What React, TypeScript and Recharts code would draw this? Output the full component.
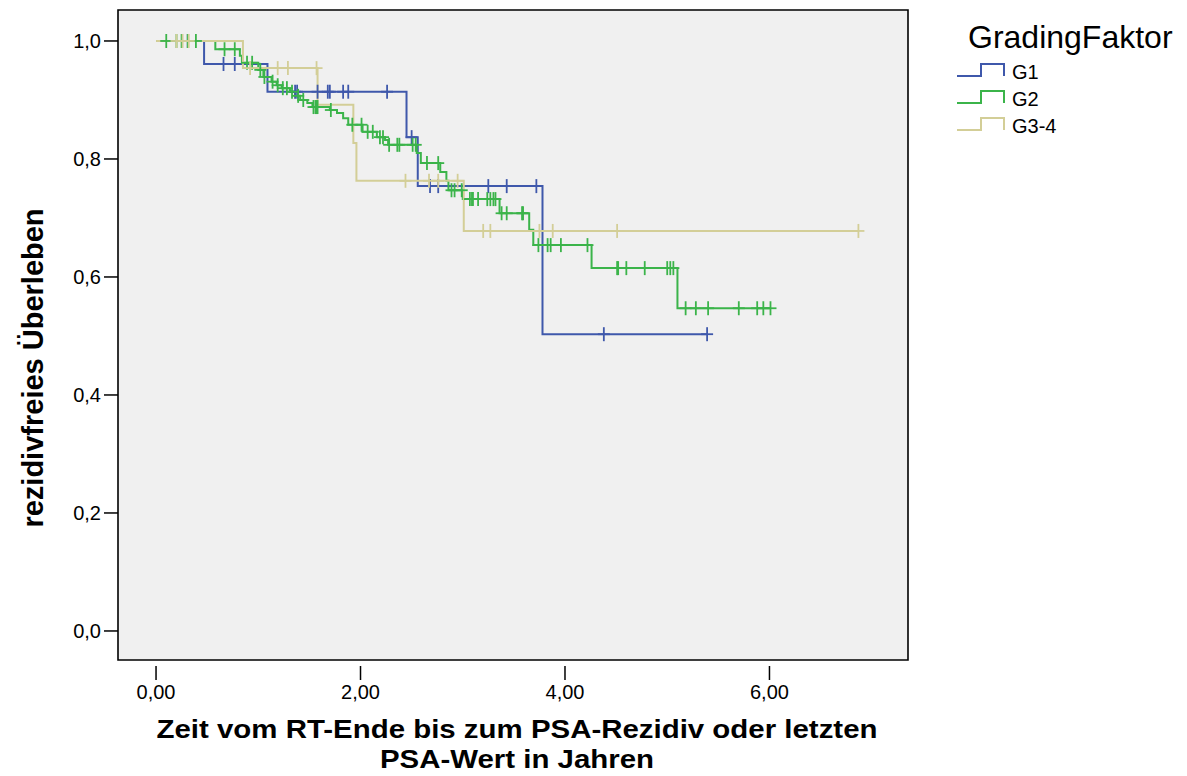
import { ComposedChart, Line, Scatter, XAxis, YAxis, ReferenceArea } from 'recharts';

// Kaplan-Meier readings (time in years, survival after the event)
const g1EventTimes = [0.47, 1.09, 2.45, 2.56, 3.78];
const g1Survival = [0.961, 0.914, 0.837, 0.754, 0.503];
const g1CensorTimes = [0.31, 0.66, 0.77, 1.36, 1.38, 1.58, 1.68, 1.7, 1.83, 1.88, 2.26, 2.5, 2.68, 2.76, 3.25, 3.43, 3.72, 4.38, 5.39];

const g2EventTimes = [
    0.58, 0.82, 0.84, 1.0, 1.05, 1.13, 1.18, 1.23, 1.31, 1.36, 1.41, 1.48, 1.53, 1.7, 1.77, 1.83, 1.88,
    2.02, 2.16, 2.24, 2.27, 2.55, 2.59, 2.78, 2.84, 2.86, 3.0, 3.36, 3.65, 3.69, 4.26, 5.1,
];
const g2Survival = [
    0.986, 0.975, 0.963, 0.951, 0.939, 0.931, 0.925, 0.92, 0.914, 0.907, 0.9, 0.895, 0.888, 0.883, 0.878, 0.869, 0.858,
    0.846, 0.837, 0.832, 0.824, 0.81, 0.793, 0.778, 0.763, 0.747, 0.732, 0.708, 0.68, 0.654, 0.615, 0.547,
];
const g2CensorTimes = [
    0.1, 0.2, 0.25, 0.31, 0.39, 0.67, 0.77, 0.89, 0.94, 1.02, 1.06, 1.14, 1.19, 1.24, 1.28, 1.33, 1.39, 1.44,
    1.54, 1.56, 1.57, 1.58, 1.71, 1.92, 2.01, 2.07, 2.12, 2.19, 2.22, 2.28, 2.36, 2.38, 2.51, 2.54, 2.65, 2.76,
    2.89, 2.92, 2.99, 3.07, 3.09, 3.1, 3.15, 3.24, 3.27, 3.3, 3.32, 3.38, 3.43, 3.58, 3.59, 3.74, 3.83, 3.86,
    3.96, 4.22, 4.51, 4.52, 4.6, 4.78, 5.0, 5.03, 5.06, 5.18, 5.28, 5.4, 5.7, 5.88, 5.94, 6.01,
];

const g3EventTimes = [0.85, 1.58, 1.93, 1.96, 3.01];
const g3Survival = [0.954, 0.892, 0.827, 0.763, 0.678];
const g3CensorTimes = [0.2, 0.26, 0.32, 0.92, 1.19, 1.29, 1.57, 2.44, 2.67, 2.76, 2.95, 3.2, 3.27, 3.75, 3.88, 4.51, 6.87];

const groupNames = ['G1', 'G2', 'G3-4'];
const groupColors = ['#3f58ab', '#3bb44a', '#d3ce97'];

const xTicks = [0, 2, 4, 6];
const yTicks = [0, 0.2, 0.4, 0.6, 0.8, 1.0];

const X_MIN = -0.372;
const X_MAX = 7.355;
const Y_MIN = -0.0492;
const Y_MAX = 1.0525;

const FONT = 'Liberation Sans, Arial, sans-serif';

const survivalAt = (t: number, times: number[], surv: number[]) => {
    let s = 1;
    times.forEach((et, i) => {
        if (et <= t) s = surv[i];
    });
    return s;
};

const buildCurve = (times: number[], surv: number[], censors: number[]) => {
    const end = Math.max(times[times.length - 1], censors[censors.length - 1]);
    const pts = [{ t: 0, s: 1 }];
    times.forEach((t, i) => pts.push({ t, s: surv[i] }));
    pts.push({ t: end, s: surv[surv.length - 1] });
    return pts;
};

const buildCensors = (times: number[], surv: number[], censors: number[]) =>
    censors.map((t) => ({ t, s: survivalAt(t, times, surv) }));

const groups = [
    { times: g1EventTimes, surv: g1Survival, censors: g1CensorTimes },
    { times: g2EventTimes, surv: g2Survival, censors: g2CensorTimes },
    { times: g3EventTimes, surv: g3Survival, censors: g3CensorTimes },
].map((g, i) => ({
    name: groupNames[i],
    color: groupColors[i],
    curve: buildCurve(g.times, g.surv, g.censors),
    marks: buildCensors(g.times, g.surv, g.censors),
}));

const fmtX = (v: number) => v.toFixed(2).replace('.', ',');
const fmtY = (v: number) => v.toFixed(1).replace('.', ',');

const plusShape = (color: string) => (props: any) => {
    const { cx, cy } = props;
    return (
        <g>
            <line x1={cx - 6} x2={cx + 6} y1={cy} y2={cy} stroke={color} strokeWidth={1.8} />
            <line x1={cx} x2={cx} y1={cy - 7} y2={cy + 7} stroke={color} strokeWidth={1.8} />
        </g>
    );
};

const XTick = ({ x, y, payload }: any) => (
    <g>
        <line x1={x} x2={x} y1={y + 6} y2={y + 20} stroke="#000" strokeWidth={1.5} />
        <text x={x} y={y + 39} textAnchor="middle" fontSize={20} fontFamily={FONT} fill="#000">
            {fmtX(payload.value)}
        </text>
    </g>
);

const XTitle = ({ viewBox }: any) => {
    const cx = viewBox.x + viewBox.width / 2 + 4;
    return (
        <g fontFamily={FONT} fontWeight="bold" fontSize={25} fill="#000" textAnchor="middle">
            <text x={cx} y={viewBox.y + 78} textLength={721} lengthAdjust="spacingAndGlyphs">
                Zeit vom RT-Ende bis zum PSA-Rezidiv oder letzten
            </text>
            <text x={cx} y={viewBox.y + 108} textLength={274} lengthAdjust="spacingAndGlyphs">
                PSA-Wert in Jahren
            </text>
        </g>
    );
};

const YTitle = ({ viewBox }: any) => {
    const cy = viewBox.y + viewBox.height / 2 + 33;
    return (
        <text
            x={43}
            y={cy}
            transform={`rotate(-90, 43, ${cy})`}
            textAnchor="middle"
            fontFamily={FONT}
            fontWeight="bold"
            fontSize={29}
            fill="#000"
        >
            rezidivfreies Überleben
        </text>
    );
};

const LegendBox = () => (
    <svg width={237} height={160} style={{ position: 'absolute', left: 950, top: 0 }}>
        <text x={18} y={48} fontFamily={FONT} fontSize={32} fill="#000">GradingFaktor</text>
        {groups.map((g, i) => {
            const bottom = 76 + i * 27;
            const top = bottom - 12;
            return (
                <g key={g.name}>
                    <path d={`M7,${bottom} H31 V${top} H54 V${bottom}`} fill="none" stroke={g.color} strokeWidth={2} />
                    <text x={62} y={bottom + 3} fontFamily={FONT} fontSize={20} fill="#000">{g.name}</text>
                </g>
            );
        })}
    </svg>
);

export default function App() {
    return (
        <div style={{ position: 'absolute', left: 0, top: 0, width: 1187, height: 776, background: '#fff' }}>
            <ComposedChart width={1187} height={776} margin={{ top: 10, right: 279, bottom: 36, left: 58 }}>
                <ReferenceArea
                    x1={X_MIN}
                    x2={X_MAX}
                    y1={Y_MIN}
                    y2={Y_MAX}
                    fill="#f0f0f0"
                    fillOpacity={1}
                    stroke="#000"
                    strokeWidth={1.6}
                />
                <XAxis
                    type="number"
                    dataKey="t"
                    domain={[X_MIN, X_MAX]}
                    ticks={xTicks}
                    allowDataOverflow
                    axisLine={false}
                    tickLine={false}
                    tickSize={0}
                    tickMargin={0}
                    height={80}
                    tick={<XTick />}
                    label={{ content: <XTitle /> } as any}
                />
                <YAxis
                    type="number"
                    dataKey="s"
                    domain={[Y_MIN, Y_MAX]}
                    ticks={yTicks}
                    allowDataOverflow
                    axisLine={false}
                    tickLine={{ stroke: '#000', strokeWidth: 1.5 }}
                    tickSize={14}
                    tickMargin={3}
                    tickFormatter={fmtY}
                    tick={{ fill: '#000', fontSize: 20, fontFamily: FONT }}
                    width={60}
                    label={{ content: <YTitle /> } as any}
                />
                {groups.map((g) => (
                    <Line
                        key={`line-${g.name}`}
                        data={g.curve}
                        dataKey="s"
                        type="stepAfter"
                        stroke={g.color}
                        strokeWidth={2}
                        dot={false}
                        activeDot={false}
                        isAnimationActive={false}
                        name={g.name}
                    />
                ))}
                {groups.map((g) => (
                    <Scatter
                        key={`cens-${g.name}`}
                        data={g.marks}
                        dataKey="s"
                        fill={g.color}
                        shape={plusShape(g.color)}
                        isAnimationActive={false}
                        name={`${g.name}-zensiert`}
                    />
                ))}
            </ComposedChart>
            <LegendBox />
        </div>
    );
}
